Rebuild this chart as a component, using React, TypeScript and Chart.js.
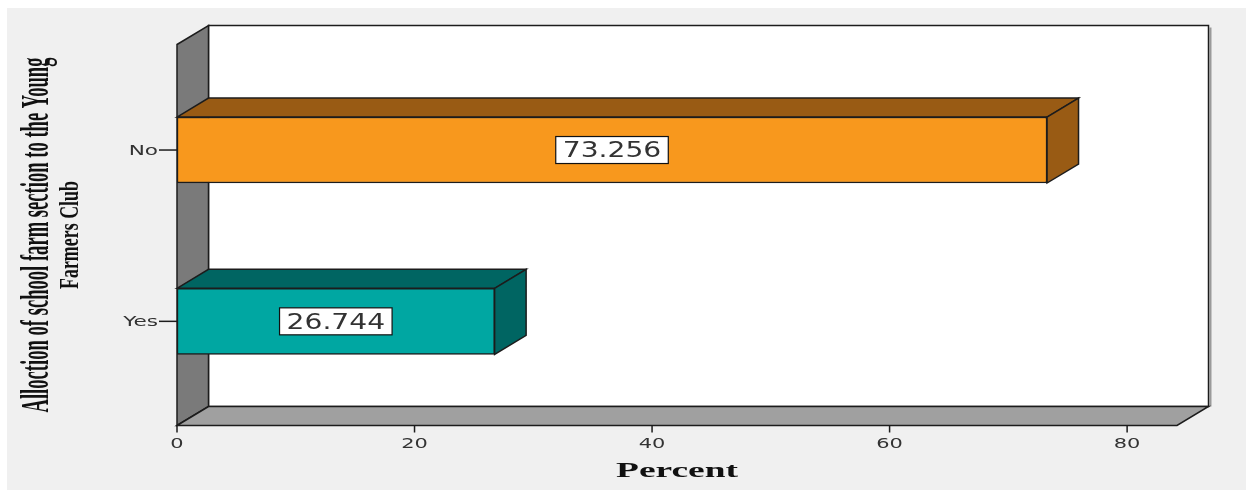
import React, { useEffect, useRef } from 'react';
import { Chart, registerables } from 'chart.js';

Chart.register(...registerables);

// Data
const categories = ['No', 'Yes'];
const percents = [73.256, 26.744];
const xTickValues = [0, 20, 40, 60, 80];
const xTitle = 'Percent';
const yTitleLines = ['Alloction of school farm section to the Young', 'Farmers Club'];

// Styles
const frontColors = ['#F8981D', '#00A7A2'];
const shadeColors = ['#995B14', '#006562'];
const DX = 31.5; // depth offset to the right
const DY = 19; // depth offset upwards
const EDGE = '#1c1c1c';

function poly(ctx: CanvasRenderingContext2D, pts: number[][], fill: string) {
  ctx.beginPath();
  ctx.moveTo(pts[0][0], pts[0][1]);
  for (let i = 1; i < pts.length; i++) ctx.lineTo(pts[i][0], pts[i][1]);
  ctx.closePath();
  ctx.fillStyle = fill;
  ctx.fill();
  ctx.strokeStyle = EDGE;
  ctx.lineWidth = 1.5;
  ctx.stroke();
}

// Draws text stretched horizontally by sx
function stretchedText(
  ctx: CanvasRenderingContext2D,
  text: string,
  x: number,
  y: number,
  sx: number,
  align: CanvasTextAlign,
  baseline: CanvasTextBaseline,
) {
  ctx.save();
  ctx.translate(x, y);
  ctx.scale(sx, 1);
  ctx.textAlign = align;
  ctx.textBaseline = baseline;
  ctx.fillText(text, 0, 0);
  ctx.restore();
}

const depthPlugin = {
  id: 'depth3d',
  beforeDraw(chart: any) {
    const { ctx, chartArea: a, width, height } = chart;
    ctx.save();
    ctx.fillStyle = '#ffffff';
    ctx.fillRect(0, 0, width, height);
    ctx.fillStyle = '#f0f0f0';
    ctx.fillRect(7, 8, width - 8, height - 9);

    // back wall
    const bl = a.left + DX;
    const br = a.right + DX;
    const bt = a.top - DY;
    const bb = a.bottom - DY;
    ctx.strokeStyle = '#9a9a9a';
    ctx.lineWidth = 2;
    ctx.beginPath();
    ctx.moveTo(br + 2, bt + 2);
    ctx.lineTo(br + 2, bb);
    ctx.stroke();
    poly(ctx, [[bl, bt], [br, bt], [br, bb], [bl, bb]], '#ffffff');

    // left wall
    poly(ctx, [[a.left, a.top], [bl, bt], [bl, bb], [a.left, a.bottom]], '#7a7a7a');
    // floor
    poly(ctx, [[a.left, a.bottom], [bl, bb], [br, bb], [a.right, a.bottom]], '#a0a0a0');

    // x axis ticks
    const xs = chart.scales.x;
    ctx.strokeStyle = EDGE;
    ctx.lineWidth = 1.5;
    ctx.fillStyle = '#333333';
    ctx.font = '13.5px "DejaVu Sans"';
    xs.ticks.forEach((t: any) => {
      const px = xs.getPixelForValue(t.value);
      ctx.beginPath();
      ctx.moveTo(px, a.bottom);
      ctx.lineTo(px, a.bottom + 7);
      ctx.stroke();
      stretchedText(ctx, String(t.value), px, a.bottom + 22, 1.55, 'center', 'alphabetic');
    });

    // y axis ticks
    const ys = chart.scales.y;
    ys.ticks.forEach((t: any) => {
      const py = ys.getPixelForValue(t.value);
      ctx.beginPath();
      ctx.moveTo(a.left - 18, py);
      ctx.lineTo(a.left, py);
      ctx.stroke();
      stretchedText(ctx, categories[t.value], a.left - 19, py + 1.5, 1.6, 'right', 'middle');
    });
    ctx.restore();
  },
  beforeDatasetsDraw(chart: any) {
    const { ctx } = chart;
    const meta = chart.getDatasetMeta(0);
    ctx.save();
    meta.data.forEach((el: any, i: number) => {
      const { x, y, base, height } = el.getProps(['x', 'y', 'base', 'height'], true);
      const top = y - height / 2;
      const bottom = y + height / 2;
      poly(ctx, [[base, top], [base + DX, top - DY], [x + DX, top - DY], [x, top]], shadeColors[i]);
      poly(ctx, [[x, top], [x + DX, top - DY], [x + DX, bottom - DY], [x, bottom]], shadeColors[i]);
    });
    ctx.restore();
  },
  afterDatasetsDraw(chart: any) {
    const { ctx } = chart;
    const meta = chart.getDatasetMeta(0);
    ctx.save();
    ctx.font = '22px "DejaVu Sans"';
    const sx = 1.28;
    meta.data.forEach((el: any, i: number) => {
      const { x, y, base } = el.getProps(['x', 'y', 'base'], true);
      const text = percents[i].toFixed(3);
      const cx = (x + base) / 2;
      const w = ctx.measureText(text).width * sx + 14;
      const h = 27;
      ctx.fillStyle = '#ffffff';
      ctx.fillRect(cx - w / 2, y - h / 2, w, h);
      ctx.strokeStyle = '#111111';
      ctx.lineWidth = 1.2;
      ctx.strokeRect(cx - w / 2, y - h / 2, w, h);
      ctx.fillStyle = '#333333';
      stretchedText(ctx, text, cx, y + 1.5, sx, 'center', 'middle');
    });
    ctx.restore();
  },
  afterDraw(chart: any) {
    const { ctx, chartArea: a } = chart;
    ctx.save();
    ctx.fillStyle = '#111111';

    // x title
    ctx.font = 'bold 21px "Liberation Serif"';
    const xw = ctx.measureText(xTitle).width;
    stretchedText(ctx, xTitle, (a.left + a.right) / 2, a.bottom + 51.5, 122 / xw, 'center', 'alphabetic');

    // y title, rotated, two lines
    const specs = [
      { font: 'bold 39px "Liberation Serif"', x: 48, len: 355 },
      { font: 'bold 28px "Liberation Serif"', x: 78, len: 108 },
    ];
    const cy = (a.top + a.bottom) / 2;
    yTitleLines.forEach((line, i) => {
      const s = specs[i];
      ctx.font = s.font;
      const w = ctx.measureText(line).width;
      ctx.save();
      ctx.translate(s.x, cy);
      ctx.rotate(-Math.PI / 2);
      ctx.scale(s.len / w, 1);
      ctx.textAlign = 'center';
      ctx.textBaseline = 'alphabetic';
      ctx.fillText(line, 0, 0);
      ctx.restore();
    });
    ctx.restore();
  },
};

export default function App() {
  const canvasRef = useRef<HTMLCanvasElement | null>(null);

  useEffect(() => {
    const canvas = canvasRef.current;
    if (!canvas) return;
    const chart = new Chart(canvas, {
      type: 'bar',
      data: {
        datasets: [
          {
            data: percents.map((v, i) => ({ x: v, y: i })),
            backgroundColor: frontColors,
            borderColor: EDGE,
            borderWidth: 1.5,
            borderSkipped: false,
            barThickness: 66,
          },
        ],
      },
      options: {
        indexAxis: 'y',
        responsive: false,
        animation: false,
        devicePixelRatio: 1,
        layout: { padding: { left: 177, top: 44.5, right: 70, bottom: 65.5 } },
        plugins: { legend: { display: false }, tooltip: { enabled: false } },
        scales: {
          x: {
            type: 'linear',
            display: false,
            offset: false,
            min: 0,
            max: 84.2,
            afterBuildTicks: (scale: any) => {
              scale.ticks = xTickValues.map((v) => ({ value: v }));
            },
          },
          y: {
            type: 'linear',
            display: false,
            offset: false,
            reverse: true,
            min: -0.616,
            max: 1.608,
            afterBuildTicks: (scale: any) => {
              scale.ticks = categories.map((_, i) => ({ value: i }));
            },
          },
        },
      },
      plugins: [depthPlugin],
    } as any);
    return () => chart.destroy();
  }, []);

  return (
    <div style={{ position: 'fixed', left: 0, top: 0, width: 1247, height: 491, background: '#fff' }}>
      <canvas ref={canvasRef} width={1247} height={491} style={{ display: 'block' }} />
    </div>
  );
}
